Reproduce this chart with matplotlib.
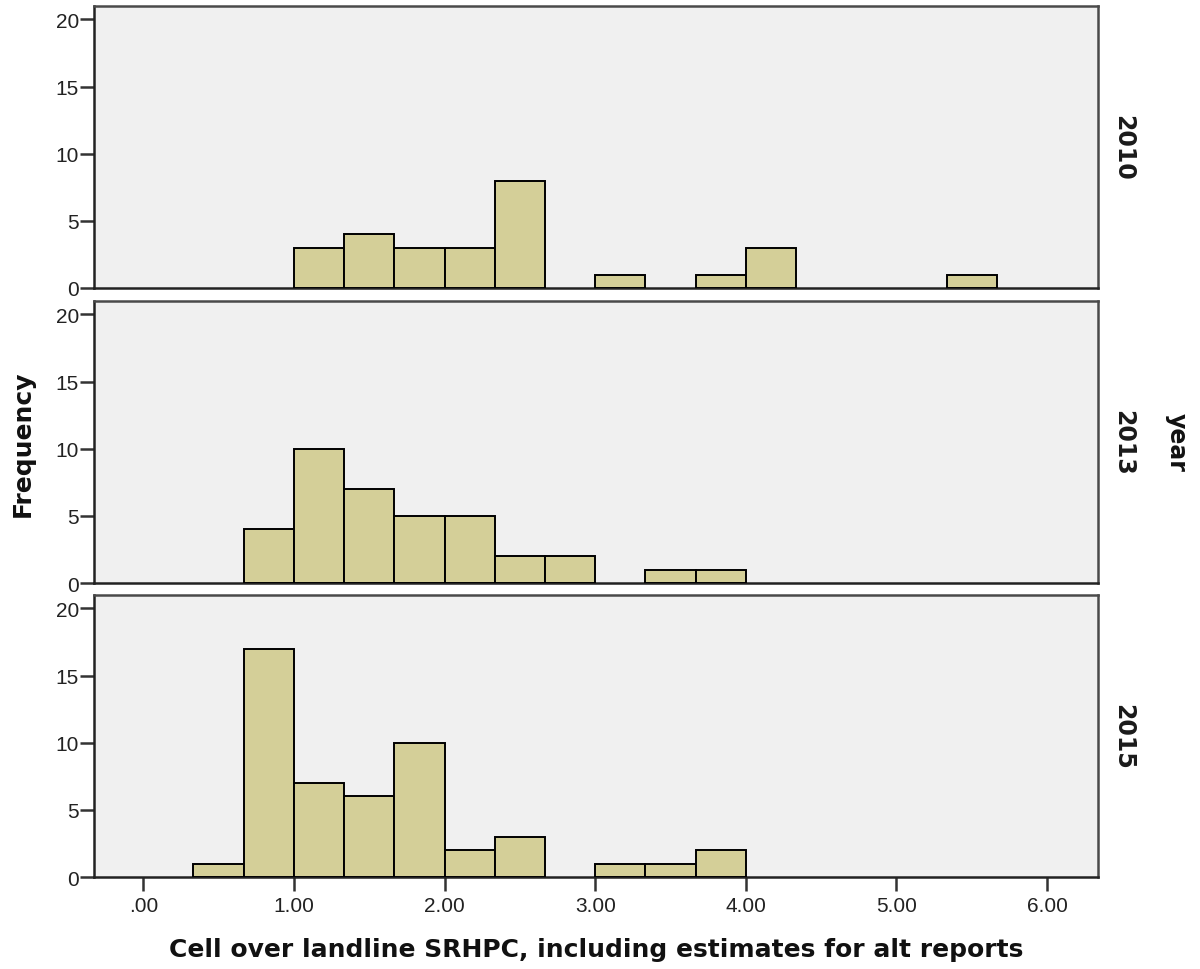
import numpy as np
import matplotlib.pyplot as plt

# histogram bins are 1/3 wide, starting at 0
bin_width = 1 / 3
n_bins = 18

years = ["2010", "2013", "2015"]
counts_2010 = [0, 0, 0, 3, 4, 3, 3, 8, 0, 1, 0, 1, 3, 0, 0, 0, 1, 0]
counts_2013 = [0, 0, 4, 10, 7, 5, 5, 2, 2, 0, 1, 1, 0, 0, 0, 0, 0, 0]
counts_2015 = [0, 1, 17, 7, 6, 10, 2, 3, 0, 1, 1, 2, 0, 0, 0, 0, 0, 0]
all_counts = [counts_2010, counts_2013, counts_2015]

x_ticks = [0, 1, 2, 3, 4, 5, 6]
x_ticklabels = [".00", "1.00", "2.00", "3.00", "4.00", "5.00", "6.00"]
y_ticks = [0, 5, 10, 15, 20]

bar_color = "#D4CF98"
panel_bg = "#F0F0F0"
frame_color = "#4a4a4a"

fig = plt.figure(figsize=(12, 9.7), dpi=100)

left, width = 0.0786, 0.8367
tops = [1 - 7 / 970, 1 - 302 / 970, 1 - 596 / 970]
height = 282 / 970

lefts = np.arange(n_bins) * bin_width

for i, (year, counts) in enumerate(zip(years, all_counts)):
    ax = fig.add_axes([left, tops[i] - height, width, height])
    ax.set_facecolor(panel_bg)
    counts = np.array(counts)
    mask = counts > 0
    ax.bar(lefts[mask], counts[mask], width=bin_width, align="edge",
           color=bar_color, edgecolor="black", linewidth=1.4, zorder=3)
    ax.set_xlim(-0.325, 6.34)
    ax.set_ylim(0, 21)
    ax.set_yticks(y_ticks)
    ax.set_yticklabels([str(t) for t in y_ticks], fontsize=15,
                       family="Liberation Sans", color="#222222")
    ax.tick_params(axis="y", direction="out", length=10, width=1.8,
                   color="#333333", pad=1)
    for side in ["top", "right", "left", "bottom"]:
        ax.spines[side].set_color(frame_color)
        ax.spines[side].set_linewidth(1.8)
    ax.spines["left"].set_color("#222222")
    ax.spines["bottom"].set_color("#222222")
    if i < 2:
        ax.set_xticks([])
    else:
        ax.set_xticks(x_ticks)
        ax.set_xticklabels(x_ticklabels, fontsize=15,
                           family="Liberation Sans", color="#222222")
        ax.tick_params(axis="x", direction="out", length=10, width=1.8,
                       color="#333333", pad=4)
    ax.text(1.0245, 0.5, year, transform=ax.transAxes, rotation=-90,
            ha="center", va="center", fontsize=17, fontweight="bold",
            color="#1a1a1a")

fig.text(0.019, 0.543, "Frequency", rotation=90, ha="center", va="center",
         fontsize=18, fontweight="bold", color="#111111")
fig.text(0.981, 0.544, "year", rotation=-90, ha="center", va="center",
         fontsize=17, fontweight="bold", color="#111111")
fig.text(0.497, 0.021,
         "Cell over landline SRHPC, including estimates for alt reports",
         ha="center", va="center", fontsize=18, fontweight="bold",
         color="#111111")

fig.savefig("out.png", dpi=100, facecolor="white")
